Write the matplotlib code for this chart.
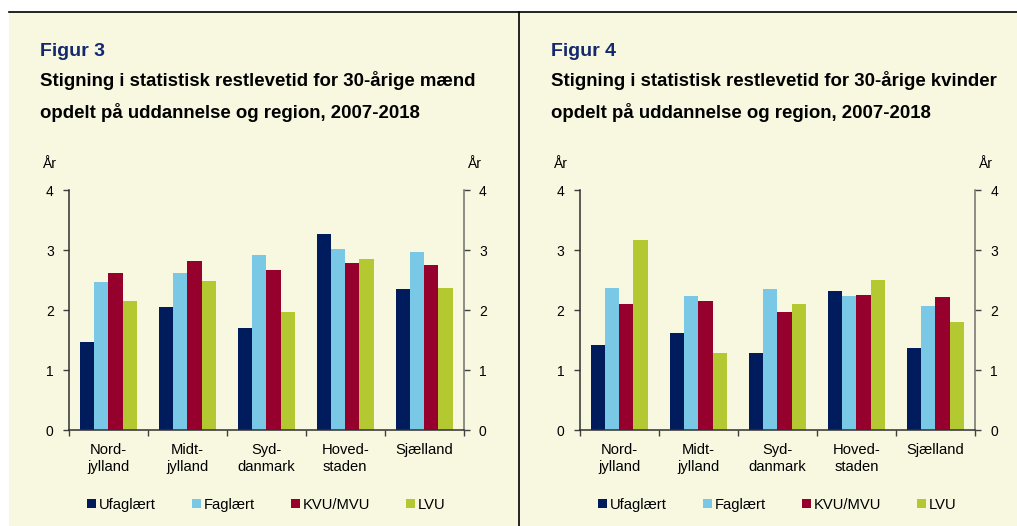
import matplotlib
matplotlib.use("Agg")
import matplotlib.pyplot as plt
import numpy as np
from matplotlib.patches import Rectangle
from matplotlib.lines import Line2D

plt.rcParams['font.family'] = ['Liberation Sans', 'DejaVu Sans']

regions = ["Nord-\njylland", "Midt-\njylland", "Syd-\ndanmark", "Hoved-\nstaden", "Sjælland"]
series = ["Ufaglært", "Faglært", "KVU/MVU", "LVU"]
colors = ["#001C5C", "#78C8E6", "#96002D", "#B4C832"]

# Figur 3: mænd
men_ufaglaert = [1.48, 2.05, 1.71, 3.28, 2.35]
men_faglaert = [2.48, 2.63, 2.92, 3.03, 2.98]
men_kvu = [2.63, 2.83, 2.67, 2.79, 2.76]
men_lvu = [2.16, 2.49, 1.97, 2.85, 2.38]

# Figur 4: kvinder
women_ufaglaert = [1.42, 1.63, 1.29, 2.33, 1.37]
women_faglaert = [2.38, 2.24, 2.36, 2.24, 2.07]
women_kvu = [2.10, 2.15, 1.97, 2.25, 2.22]
women_lvu = [3.17, 1.29, 2.11, 2.51, 1.81]

yticks = [0, 1, 2, 3, 4]

bg = "#F8F8E1"
W, H = 1017, 526
fig = plt.figure(figsize=(W / 100, H / 100), dpi=100)
fig.patch.set_facecolor("white")

# panel background and frame lines
fig.patches.append(Rectangle((9 / W, 0), 1 - 9 / W, 1 - 12 / H, transform=fig.transFigure,
                             facecolor=bg, edgecolor="none", zorder=-10))
fig.lines.append(Line2D([9 / W, 1], [1 - 12 / H, 1 - 12 / H], transform=fig.transFigure,
                        color="black", lw=1.2, zorder=-5))
fig.lines.append(Line2D([519 / W, 519 / W], [0, 1 - 12 / H], transform=fig.transFigure,
                        color="black", lw=1.2, zorder=-5))

title_color = "#14286E"


def panel(x0, ax_left, ax_right, fignum, who, data):
    fig.text(x0 / W, 1 - 52 / H, f"Figur {fignum}", color=title_color, fontsize=14,
             fontweight="bold", ha="left", va="center")
    fig.text(x0 / W, 1 - 81 / H, f"Stigning i statistisk restlevetid for 30-årige {who}",
             color="black", fontsize=13.4, fontweight="bold", ha="left", va="center")
    fig.text(x0 / W, 1 - 112 / H, "opdelt på uddannelse og region, 2007-2018",
             color="black", fontsize=13.4, fontweight="bold", ha="left", va="center")

    top, bottom = 190.3, 430.3
    ax = fig.add_axes([ax_left / W, 1 - bottom / H, (ax_right - ax_left) / W, (bottom - top) / H])
    ax.set_facecolor("none")
    x = np.arange(len(regions))
    bw = 0.18
    for i, (vals, c) in enumerate(zip(data, colors)):
        ax.bar(x + (i - 1.5) * bw, vals, bw, color=c, label=series[i], edgecolor="none", zorder=2)
    ax.set_xlim(-0.5, len(regions) - 0.5)
    ax.set_ylim(0, 4)
    ax.set_yticks(yticks)
    ax.set_yticklabels([str(t) for t in yticks], fontsize=10)
    ax.set_xticks(np.arange(-0.5, len(regions), 1.0))
    ax.set_xticklabels([])
    ax.set_xticks(x, minor=True)
    ax.set_xticklabels(regions, minor=True, fontsize=10.6, linespacing=1.25)
    ax.tick_params(axis="x", which="minor", length=0, pad=9)
    ax.tick_params(axis="x", which="major", length=4, width=1, color="#404040", direction="out")
    ax.tick_params(axis="y", length=4, width=1, color="#404040", direction="out", pad=7,
                   right=True, labelright=True)
    for s in ["left", "bottom"]:
        ax.spines[s].set_color("#303030")
        ax.spines[s].set_linewidth(1.1)
    ax.spines["right"].set_color("#707070")
    ax.spines["right"].set_linewidth(1.1)
    ax.spines["top"].set_visible(False)
    ax.text(-0.048, 1.11, "År", transform=ax.transAxes, ha="center", va="center", fontsize=10)
    ax.text(1.028, 1.11, "År", transform=ax.transAxes, ha="center", va="center", fontsize=10)
    ax.legend(loc="center", bbox_to_anchor=(0.5, -0.31), ncol=4, frameon=False,
              fontsize=10.6, handlelength=0.6, handleheight=0.6, handletextpad=0.2,
              columnspacing=2.45)
    return ax


panel(40, 69, 463.7, 3, "mænd", [men_ufaglaert, men_faglaert, men_kvu, men_lvu])
panel(551, 579.7, 975, 4, "kvinder", [women_ufaglaert, women_faglaert, women_kvu, women_lvu])

fig.savefig("out.png", dpi=100, facecolor=fig.get_facecolor())
